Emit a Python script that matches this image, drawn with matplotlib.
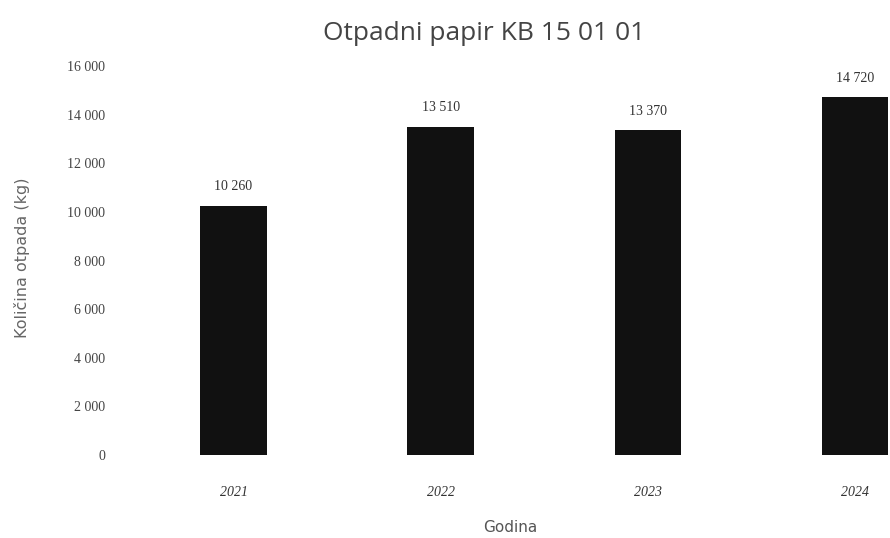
import matplotlib.pyplot as plt

years = ["2021", "2022", "2023", "2024"]
amounts = [10260, 13510, 13370, 14720]
y_ticks = [0, 2000, 4000, 6000, 8000, 10000, 12000, 14000, 16000]


def fmt(v):
    return f"{v:,}".replace(",", " ")


def main():
    fig = plt.figure(figsize=(8.9, 5.38), dpi=100)
    ax = fig.add_axes([130 / 890, 83 / 538, 760 / 890, (455 - 66) / 538])

    x = range(len(years))
    bars = ax.bar(x, amounts, width=0.32, color="#111111")

    for b, v in zip(bars, amounts):
        ax.text(b.get_x() + b.get_width() / 2, v + 500, fmt(v),
                ha="center", va="bottom", fontsize=10,
                family="Liberation Serif", color="#333333")

    ax.set_xlim(-0.5, 3.17)
    ax.set_ylim(0, 16000)
    ax.set_xticks(list(x))
    ax.set_xticklabels(years, family="Liberation Serif", fontsize=10,
                       color="#333333", style="italic")
    ax.set_yticks(y_ticks)
    ax.set_yticklabels([fmt(t) for t in y_ticks], family="Liberation Serif",
                       fontsize=10, color="#444444")
    ax.tick_params(axis="x", length=0, pad=22)
    ax.tick_params(axis="y", length=0, pad=18)

    for s in ax.spines.values():
        s.set_visible(False)

    fig.text(510 / 890, 1 - 527 / 538, "Godina", ha="center", va="center",
             fontsize=11, color="#555555")
    fig.text(22 / 890, 1 - 258 / 538, "Količina otpada (kg)", ha="center",
             va="center", rotation=90, fontsize=11.5, color="#666666")
    fig.text(484 / 890, 1 - 33 / 538, "Otpadni papir KB 15 01 01", ha="center",
             va="center", fontsize=19, color="#444444", family="Open Sans")

    fig.savefig("out.png", dpi=100)


if __name__ == "__main__":
    main()
